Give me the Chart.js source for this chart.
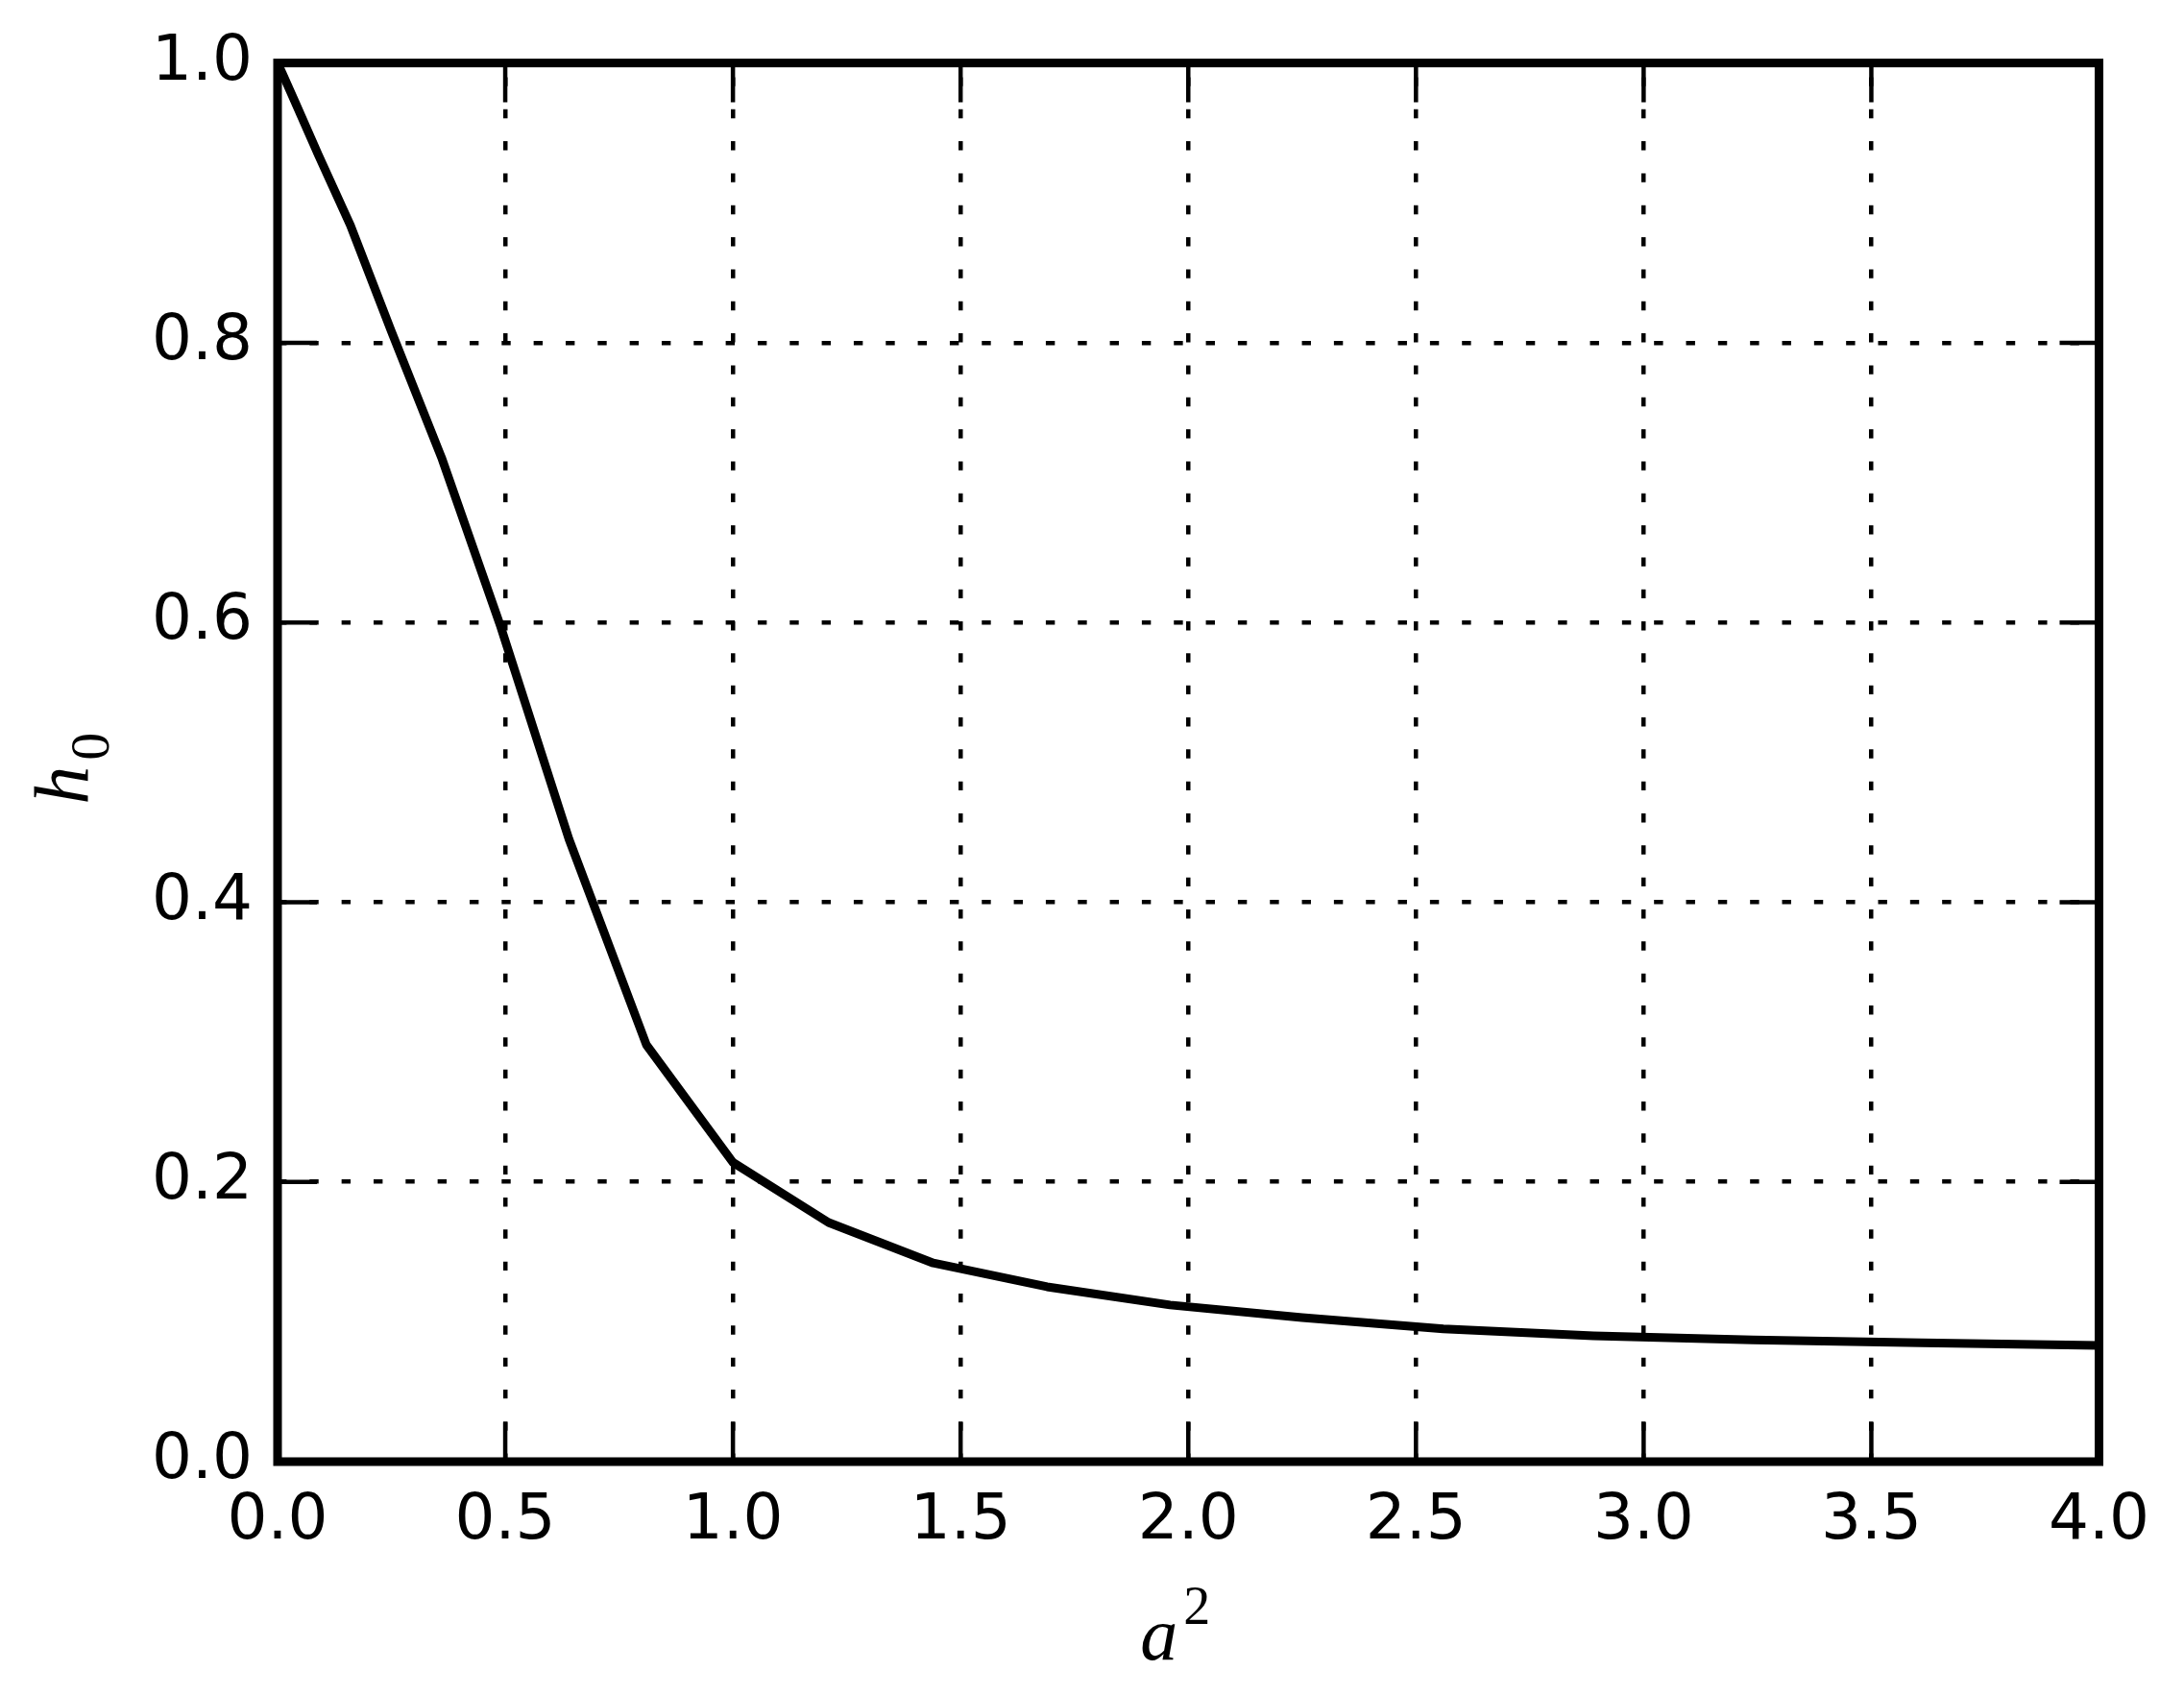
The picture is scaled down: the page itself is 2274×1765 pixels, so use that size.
<!DOCTYPE html>
<html>
<head>
<meta charset="utf-8">
<script src="https://cdn.jsdelivr.net/npm/chart.js@4/dist/chart.umd.min.js"></script>
<style>
html,body{margin:0;padding:0;background:#ffffff;overflow:hidden}
#wrap{width:2274px;height:1765px;position:relative;background:#fff}
</style>
</head>
<body>
<div id="wrap"><canvas id="c" width="2274" height="1765"></canvas></div>
<script>
// ---- data ----
const a2Values = [0, 0.01, 0.04, 0.09, 0.16, 0.25, 0.36, 0.49, 0.64, 0.81, 1.0, 1.21, 1.44, 1.69, 1.96, 2.25, 2.56, 2.89, 3.24, 3.61, 4.0];
const h0Values = [1.0, 0.993, 0.971, 0.934, 0.884, 0.808, 0.718, 0.597, 0.445, 0.298, 0.214, 0.171, 0.142, 0.125, 0.112, 0.103, 0.095, 0.090, 0.087, 0.085, 0.083];

const xTickValues = [0, 0.5, 1.0, 1.5, 2.0, 2.5, 3.0, 3.5, 4.0];
const xTickLabels = ['0.0', '0.5', '1.0', '1.5', '2.0', '2.5', '3.0', '3.5', '4.0'];
const yTickValues = [0, 0.2, 0.4, 0.6, 0.8, 1.0];
const yTickLabels = ['0.0', '0.2', '0.4', '0.6', '0.8', '1.0'];

const xTitleParts = ['a', '2'];   // base (italic), superscript
const yTitleParts = ['h', '0'];   // base (italic), subscript

// ---- chart ----
const dataPoints = a2Values.map((v, i) => ({x: v, y: h0Values[i]}));

const framePlugin = {
  id: 'mplFrame',
  afterDraw(chart) {
    const ctx = chart.ctx;
    const {left, right, top, bottom} = chart.chartArea;
    const xs = chart.scales.x, ys = chart.scales.y;
    ctx.save();
    ctx.strokeStyle = '#000';
    ctx.fillStyle = '#000';
    // inward ticks on all four sides
    const TL = 41;
    ctx.lineWidth = 4.5;
    ctx.lineCap = 'butt';
    ctx.setLineDash([]);
    ctx.beginPath();
    xTickValues.forEach(v => {
      const px = xs.getPixelForValue(v);
      ctx.moveTo(px, bottom); ctx.lineTo(px, bottom - TL);
      ctx.moveTo(px, top); ctx.lineTo(px, top + TL);
    });
    yTickValues.forEach(v => {
      const py = ys.getPixelForValue(v);
      ctx.moveTo(left, py); ctx.lineTo(left + TL, py);
      ctx.moveTo(right, py); ctx.lineTo(right - TL, py);
    });
    ctx.stroke();
    // frame
    ctx.lineWidth = 9;
    ctx.lineJoin = 'miter';
    ctx.strokeRect(left, top, right - left, bottom - top);

    // axis titles (math style)
    const cx = (left + right) / 2;
    const cy = (top + bottom) / 2;
    ctx.textBaseline = 'alphabetic';
    ctx.textAlign = 'left';
    ctx.font = 'italic 78px "Liberation Serif"';
    ctx.fillText(xTitleParts[0], cx - 50, bottom + 206);
    ctx.font = '56px "Liberation Serif"';
    ctx.fillText(xTitleParts[1], cx - 5, bottom + 169);

    ctx.save();
    ctx.translate(left - 198, cy + 44);
    ctx.rotate(-Math.PI / 2);
    ctx.font = 'italic 80px "Liberation Serif"';
    ctx.fillText(yTitleParts[0], 0, 0);
    ctx.font = '58px "Liberation Serif"';
    ctx.fillText(yTitleParts[1], 46, 22);
    ctx.restore();

    ctx.restore();
  }
};

const tickFont = {family: '"DejaVu Sans"', size: 66, weight: 'normal'};

new Chart(document.getElementById('c'), {
  type: 'scatter',
  data: {
    datasets: [{
      data: dataPoints,
      showLine: true,
      borderColor: '#000',
      backgroundColor: '#000',
      borderWidth: 9,
      borderJoinStyle: 'round',
      pointRadius: 0,
      pointHoverRadius: 0,
      tension: 0,
      clip: 6
    }]
  },
  options: {
    responsive: false,
    devicePixelRatio: 1,
    animation: false,
    events: [],
    layout: {padding: {left: 0, right: 88.5, top: 64.5, bottom: 0}},
    plugins: {legend: {display: false}, tooltip: {enabled: false}, title: {display: false}},
    scales: {
      x: {
        type: 'linear',
        position: 'bottom',
        min: 0, max: 4,
        afterBuildTicks: s => { s.ticks = xTickValues.map(v => ({value: v})); },
        afterFit: s => { s.height = 243; },
        ticks: {
          callback: (v, i) => xTickLabels[i],
          font: tickFont, color: '#000', padding: 23, maxRotation: 0, autoSkip: false
        },
        grid: {color: '#000', lineWidth: 4.5, drawTicks: false},
        border: {display: false, dash: [9.4, 23.93], dashOffset: 18.5}
      },
      y: {
        type: 'linear',
        position: 'left',
        min: 0, max: 1,
        afterBuildTicks: s => { s.ticks = yTickValues.map(v => ({value: v})); },
        afterFit: s => { s.width = 289; },
        ticks: {
          callback: (v, i) => yTickLabels[i],
          font: tickFont, color: '#000', padding: 26, autoSkip: false
        },
        grid: {color: '#000', lineWidth: 4.5, drawTicks: false},
        border: {display: false, dash: [9.4, 23.93], dashOffset: 0}
      }
    }
  },
  plugins: [framePlugin]
});
</script>
</body>
</html>
